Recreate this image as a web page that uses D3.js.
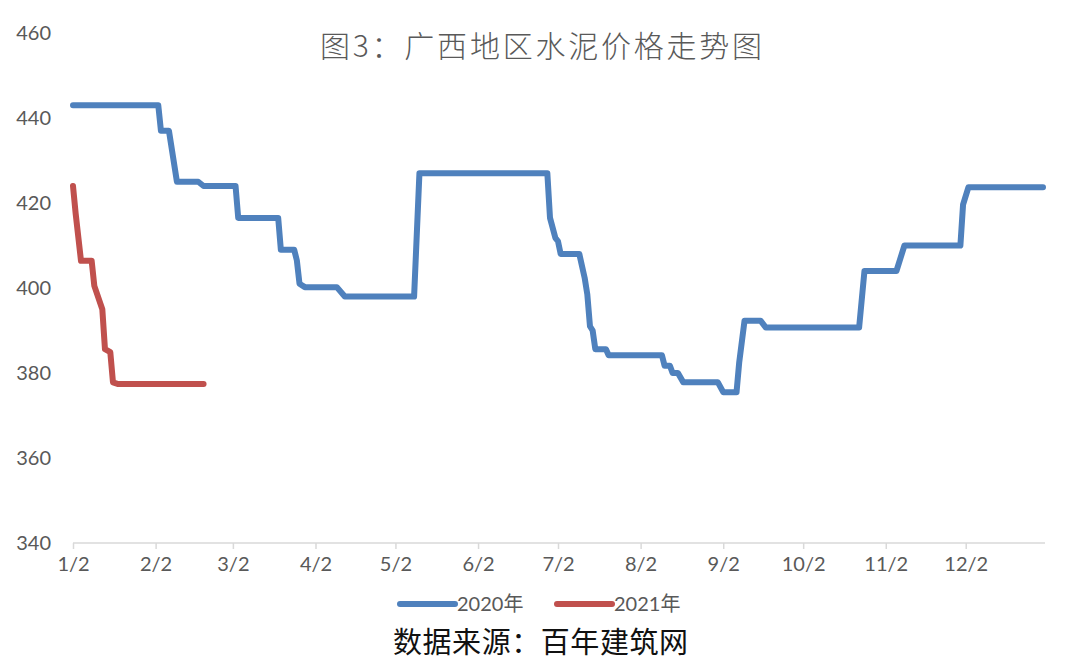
<!DOCTYPE html>
<html>
<head>
<meta charset="utf-8">
<script src="https://cdn.jsdelivr.net/npm/d3@7"></script>
<style>
  html, body { margin: 0; padding: 0; background: #fff; }
  svg { display: block; }
</style>
</head>
<body>
<svg id="chart" width="1080" height="667"></svg>
<script>
// ---- data ----
const titleText = "图3：广西地区水泥价格走势图";
const sourceText = "数据来源：百年建筑网";
const seriesNames = ["2020年", "2021年"];
const yTicks = [340, 360, 380, 400, 420, 440, 460];
const xTickLabels = ["1/2","2/2","3/2","4/2","5/2","6/2","7/2","8/2","9/2","10/2","11/2","12/2"];

const dates2020 = ["1/2","2/3","2/4","2/7","2/10","2/18","2/20","3/3","3/4","3/19",
  "3/20","3/25","3/26","3/27","3/29","4/10","4/13","5/9","5/11","6/28",
  "6/29","7/1","7/2","7/3","7/10","7/12","7/13","7/14","7/15","7/16",
  "7/20","7/21","8/10","8/11","8/13","8/14","8/16","8/18","8/31","9/2",
  "9/7","9/8","9/10","9/16","9/18","10/23","10/25","11/6","11/9","11/30",
  "12/1","12/3","12/31"];
const values2020 = [443,443,437,437,425,425,424,424,416.5,416.5,
  409,409,406.5,401,400.2,400.2,398,398,427,427,
  416.5,411.8,411,408,408,402.4,398.5,391,390,385.6,
  385.6,384.2,384.2,381.7,381.7,380,380,377.8,377.8,375.5,
  375.5,382.5,392.3,392.3,390.7,390.7,404,404,410,410,
  419.6,423.7,423.7];

const dates2021 = ["1/2","1/3","1/5","1/9","1/10","1/13","1/14","1/16","1/17","1/19","2/20"];
const values2021 = [424,417.5,406.4,406.4,400.5,395,385.6,384.9,377.8,377.4,377.4];

const colors = ["#4F81BD", "#C0504D"];

// ---- helpers ----
const md = s => { const [m, d] = s.split("/").map(Number); return new Date(2020, m - 1, d); };

const svg = d3.select("#chart");
const x = d3.scaleTime().domain([md("1/2"), md("12/31")]).range([73, 1043]);
const y = d3.scaleLinear().domain([340, 460]).range([543, 33]);

const axisColor = "#d9d9d9";
const textColor = "#595959";
const numFont = "Lato, 'Open Sans', sans-serif";

// y labels
svg.append("g").selectAll("text").data(yTicks).join("text")
  .attr("x", 51).attr("y", d => y(d)).attr("dy", "0.35em")
  .attr("text-anchor", "end")
  .attr("font-family", numFont).attr("font-size", 20)
  .attr("fill", textColor).text(d => d);

// x axis
const xAxis = d3.axisBottom(x)
  .tickValues(xTickLabels.map(md))
  .tickFormat((d, i) => xTickLabels[i])
  .tickSize(6).tickPadding(8).tickSizeOuter(0);
const gx = svg.append("g").attr("transform", `translate(0,${y(340)})`).call(xAxis);
gx.select(".domain").attr("stroke", axisColor).attr("stroke-width", 1.5)
  .attr("d", `M73,0H1045`);
gx.selectAll(".tick line").attr("stroke", axisColor).attr("stroke-width", 1.5);
gx.selectAll(".tick text").attr("font-family", numFont).attr("font-size", 20)
  .attr("fill", textColor);

// lines
const line = d3.line().x(d => x(d[0])).y(d => y(d[1]));
const s2020 = dates2020.map((d, i) => [md(d), values2020[i]]);
const s2021 = dates2021.map((d, i) => [md(d), values2021[i]]);
[s2020, s2021].forEach((s, i) => {
  svg.append("path").datum(s).attr("d", line)
    .attr("fill", "none").attr("stroke", colors[i]).attr("stroke-width", 6)
    .attr("stroke-linejoin", "round").attr("stroke-linecap", "round");
});

// title
svg.append("text").attr("x", 320).attr("y", 57)
  .attr("font-family", "'Noto Sans CJK SC', sans-serif").attr("font-size", 30)
  .attr("font-weight", 300)
  .attr("textLength", 442).attr("lengthAdjust", "spacing")
  .attr("fill", textColor).text(titleText);

// legend
const legendX = [400, 557];
seriesNames.forEach((n, i) => {
  const g = svg.append("g");
  g.append("line").attr("x1", legendX[i]).attr("x2", legendX[i] + 55)
    .attr("y1", 604).attr("y2", 604)
    .attr("stroke", colors[i]).attr("stroke-width", 6).attr("stroke-linecap", "round");
  g.append("text").attr("x", legendX[i] + 57).attr("y", 611)
    .attr("font-family", "Lato, 'Noto Sans CJK SC', sans-serif").attr("font-size", 20)
    .attr("fill", textColor).text(n);
});

// source
svg.append("text").attr("x", 393).attr("y", 653)
  .attr("font-family", "'Noto Sans CJK SC', sans-serif").attr("font-size", 29)
  .attr("font-weight", 400)
  .attr("textLength", 295).attr("lengthAdjust", "spacing")
  .attr("fill", "#111").text(sourceText);
</script>
</body>
</html>
